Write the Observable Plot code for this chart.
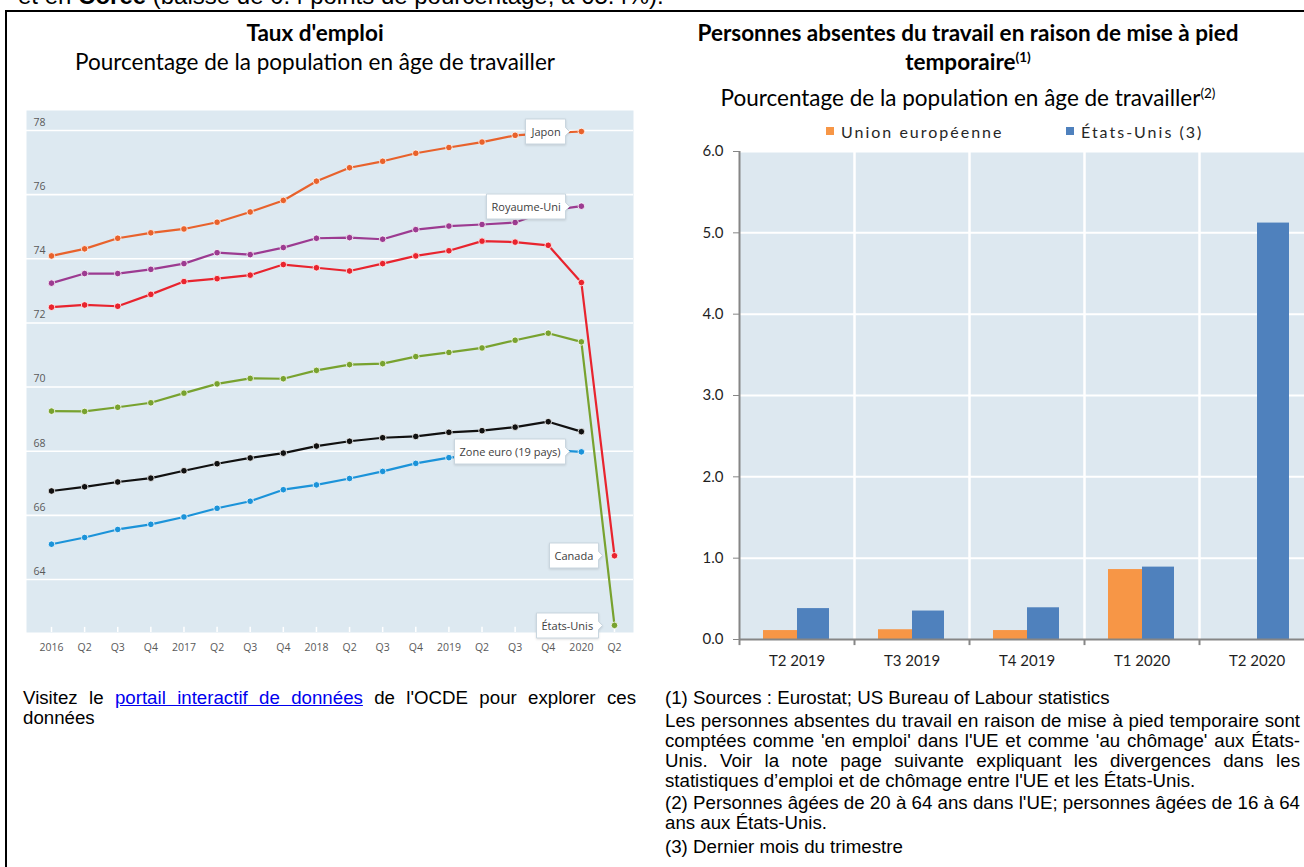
<!DOCTYPE html>
<html lang="fr">
<head>
<meta charset="utf-8">
<script src="https://cdn.jsdelivr.net/npm/d3@7"></script>
<script src="https://cdn.jsdelivr.net/npm/@observablehq/plot@0.6"></script>
<style>
  html, body { margin:0; padding:0; background:#fff; width:1304px; height:867px; overflow:hidden; }
  #page { position:relative; width:1304px; height:867px; overflow:hidden; font-family:"Liberation Sans", Arial, sans-serif; color:#000; }
  .abs { position:absolute; }
  .abs svg { max-width:none !important; }
  .title { font-family:Lato, "Noto Sans", sans-serif; font-weight:700; font-size:22.5px; line-height:29px; text-align:center; color:#000; white-space:nowrap; }
  .sub { font-family:Lato, "Noto Sans", sans-serif; font-size:22.5px; line-height:28px; text-align:center; color:#000; white-space:nowrap; }
  sup { font-size:0.6em; vertical-align:0.6em; line-height:0; }
  .note { font-family:"Liberation Sans", Arial, sans-serif; font-size:18.7px; line-height:20px; color:#000; }
  .j { text-align:justify; text-align-last:justify; white-space:nowrap; }
  .legend-item { position:absolute; top:121px; height:20px; display:flex; align-items:center; font-family:Lato, "Noto Sans", sans-serif; font-size:16px; letter-spacing:2px; color:#262626; white-space:nowrap; }
  .legend-item .sw { width:8px; height:8px; margin-right:7px; }
  a { color:#0000ee; text-decoration:underline; }
</style>
</head>
<body>
<div id="page">
  <div class="abs" style="left:18px; top:-16px; font-size:24px; line-height:24px; white-space:nowrap;">et en <b>Corée</b> (baisse de 0.4 points de pourcentage, à 65.4%).</div>
  <div class="abs" style="left:5px; top:10px; width:1300px; height:2px; background:#000;"></div>
  <div class="abs" style="left:5px; top:10px; width:2px; height:857px; background:#000;"></div>

  <div class="abs title" style="left:15px; width:600px; top:18px;">Taux d'emploi</div>
  <div class="abs sub" style="left:15px; width:600px; top:48px;">Pourcentage de la population en âge de travailler</div>
  <div id="leftChart" class="abs" style="left:16px; top:100px; width:630px; height:565px;"></div>

  <div class="abs title" style="left:668px; width:600px; top:18px;">Personnes absentes du travail en raison de mise à pied<br>temporaire<sup>(1)</sup></div>
  <div class="abs sub" style="left:668px; width:600px; top:84px;">Pourcentage de la population en âge de travailler<sup>(2)</sup></div>
  <div id="legend"></div>
  <div id="rightChart" class="abs" style="left:680px; top:140px; width:640px; height:540px;"></div>

  <div class="abs note" style="left:23px; top:688px; width:613px;">
    <div class="j">Visitez le <a href="#">portail interactif de données</a> de l'OCDE pour explorer ces</div>
    <div>données</div>
  </div>

  <div class="abs note" style="left:665px; top:688px; width:635px;">
    <div>(1) Sources : Eurostat; US Bureau of Labour statistics</div>
    <div style="margin-top:3px;">
      <div class="j">Les personnes absentes du travail en raison de mise à pied temporaire sont</div>
      <div class="j">comptées comme 'en emploi' dans l'UE et comme 'au chômage' aux États-</div>
      <div class="j">Unis. Voir la note page suivante expliquant les divergences dans les</div>
      <div>statistiques d’emploi et de chômage entre l'UE et les États-Unis.</div>
    </div>
    <div style="margin-top:2px;">
      <div class="j">(2) Personnes âgées de 20 à 64 ans dans l'UE; personnes âgées de 16 à 64</div>
      <div>ans aux États-Unis.</div>
    </div>
    <div style="margin-top:4px;">(3) Dernier mois du trimestre</div>
  </div>
</div>

<script>
// ---------- Left chart data: Taux d'emploi ----------
const quarterLabels = ["2016","Q2","Q3","Q4","2017","Q2","Q3","Q4","2018","Q2","Q3","Q4","2019","Q2","Q3","Q4","2020","Q2"];
const seriesNames = ["Japon","Royaume-Uni","Canada","États-Unis","OCDE","Zone euro (19 pays)"];
const seriesColors = ["#e8622c","#9c3b91","#e8242e","#78a22f","#111111","#1b93d9"];
const labelledSeries = ["Japon","Royaume-Uni","Canada","États-Unis","Zone euro (19 pays)"];

const japon      = [74.09,74.31,74.64,74.81,74.93,75.14,75.46,75.82,76.42,76.84,77.04,77.29,77.47,77.64,77.85,77.92,77.97];
const royaumeUni = [73.24,73.54,73.54,73.67,73.85,74.19,74.13,74.35,74.64,74.66,74.61,74.91,75.02,75.07,75.13,75.50,75.64];
const canada     = [72.49,72.56,72.52,72.89,73.29,73.38,73.49,73.82,73.72,73.62,73.85,74.09,74.25,74.55,74.52,74.42,73.26,64.74];
const etatsUnis  = [69.25,69.24,69.37,69.51,69.81,70.10,70.27,70.26,70.52,70.70,70.73,70.95,71.08,71.22,71.46,71.68,71.41,62.57];
const ocde       = [66.76,66.89,67.04,67.16,67.39,67.61,67.79,67.94,68.16,68.31,68.42,68.46,68.59,68.64,68.75,68.92,68.61];
const zoneEuro   = [65.10,65.31,65.56,65.72,65.95,66.22,66.44,66.80,66.95,67.15,67.37,67.62,67.80,67.88,67.96,68.04,67.98];
const yTicksLeft = [64,66,68,70,72,74,76,78];

// ---------- Right chart data: mise à pied temporaire ----------
const periods = ["T2 2019","T3 2019","T4 2019","T1 2020","T2 2020"];
const barSeries = ["Union européenne","États-Unis (3)"];
const barColors = ["#f79646","#4f81bd"];
const ue = [0.11,0.12,0.11,0.86,null];
const us = [0.38,0.35,0.39,0.89,5.12];
const yTicksRight = [0,1,2,3,4,5,6];

// ---------- Build left chart ----------
const seriesValues = [japon, royaumeUni, canada, etatsUnis, ocde, zoneEuro];
const rows = seriesNames.flatMap((s, k) => seriesValues[k].map((v, i) => ({series: s, i, value: v})));
const lastRows = seriesNames
  .map((s, k) => { const a = seriesValues[k]; return {series: s, i: a.length - 1, value: a[a.length - 1]}; })
  .filter(d => labelledSeries.includes(d.series));
const xIdx = d3.range(quarterLabels.length);
const yMinL = 62.347, yMaxL = 78.624;

const left = Plot.plot({
  width: 630, height: 565,
  marginLeft: 10, marginRight: 13, marginTop: 10, marginBottom: 33,
  style: {color: "#404040", background: "transparent", overflow: "visible"},
  x: {domain: [-0.755, 17.574]},
  y: {domain: [yMinL, yMaxL], axis: null},
  color: {domain: seriesNames, range: seriesColors},
  marks: [
    Plot.frame({fill: "#dde9f1", stroke: "none"}),
    Plot.ruleY(yTicksLeft, {stroke: "white", strokeWidth: 1.6}),
    Plot.ruleX(xIdx, {x: d => d, y1: yMinL, y2: yMinL + 0.16, stroke: "white", strokeWidth: 1.5}),
    Plot.text(yTicksLeft, {y: d => d, text: d => String(d), frameAnchor: "left", dx: 7, dy: -8, textAnchor: "start", fill: "#595959", fontSize: 10.5, fontFamily: "Open Sans"}),
    Plot.axisX({ticks: xIdx, tickFormat: i => quarterLabels[i], tickSize: 0, tickPadding: 11, fontSize: 10.5, fontFamily: "Open Sans", fill: "#595959", label: null}),
    Plot.line(rows, {x: "i", y: "value", z: "series", stroke: "series", strokeWidth: 2.2}),
    Plot.dot(rows, {x: "i", y: "value", fill: "series", stroke: "white", strokeWidth: 0.8, r: 3.3}),
    Plot.tip(lastRows, {
      x: "i", y: "value", title: "series", anchor: "right", dx: -7,
      fill: "white", stroke: "#c9d6df", fontSize: 11, fontFamily: "Open Sans",
      textPadding: 5, pointerSize: 8, pathFilter: "drop-shadow(0 1px 1px rgba(0,0,0,0.12))"
    })
  ]
});
// nudge the callout boxes a few pixels left of their points, as in the reference
d3.select(left).selectAll('g[aria-label="tip"]').each(function () {
  const t = this.getAttribute("transform");
  this.setAttribute("transform", (t ? t + " " : "") + "translate(-5,0)");
});
document.getElementById("leftChart").append(left);

// ---------- Build right chart ----------
const ueRows = periods.map((p, i) => ({period: p, value: ue[i]})).filter(d => d.value != null);
const usRows = periods.map((p, i) => ({period: p, value: us[i]})).filter(d => d.value != null);
const halfBand = 57.5;

const right = Plot.plot({
  width: 640, height: 540,
  marginLeft: 59, marginRight: 6, marginTop: 11, marginBottom: 41,
  style: {color: "#262626", background: "transparent", overflow: "visible"},
  x: {domain: periods, padding: 0},
  y: {domain: [0, 6]},
  marks: [
    Plot.frame({fill: "#dde8f0", stroke: "none"}),
    Plot.ruleY(yTicksRight.slice(1), {stroke: "white", strokeWidth: 2}),
    Plot.ruleX(periods.slice(1), {x: d => d, dx: -halfBand, stroke: "white", strokeWidth: 2.5}),
    Plot.barY(ueRows, {x: "period", y: "value", fill: barColors[0], insetLeft: 24, insetRight: 57}),
    Plot.barY(usRows, {x: "period", y: "value", fill: barColors[1], insetLeft: 58, insetRight: 25}),
    Plot.ruleY([0], {stroke: "#868686", strokeWidth: 2}),
    Plot.ruleX([periods[0]], {x: d => d, dx: -halfBand, y1: 0, y2: 6, stroke: "#868686", strokeWidth: 2}),
    Plot.ruleX(periods, {x: d => d, dx: -halfBand, y1: 0, y2: -0.075, stroke: "#868686", strokeWidth: 2}),
    Plot.axisY({ticks: yTicksRight, tickFormat: d3.format(".1f"), tickSize: 6, tickPadding: 10, stroke: "#868686", fill: "#1f1f1f", fontSize: 15, fontFamily: "Lato", label: null}),
    Plot.axisX({tickSize: 0, tickPadding: 16, fill: "#1f1f1f", fontSize: 15, fontFamily: "Lato", label: null})
  ]
});
document.getElementById("rightChart").append(right);

// ---------- Legend ----------
const legendLefts = [826, 1066];
const legend = document.getElementById("legend");
barSeries.forEach((s, k) => {
  const item = document.createElement("div");
  item.className = "legend-item";
  item.style.left = legendLefts[k] + "px";
  const sw = document.createElement("span");
  sw.className = "sw";
  sw.style.background = barColors[k];
  const t = document.createElement("span");
  t.textContent = s;
  item.append(sw, t);
  legend.append(item);
});
</script>
</body>
</html>
